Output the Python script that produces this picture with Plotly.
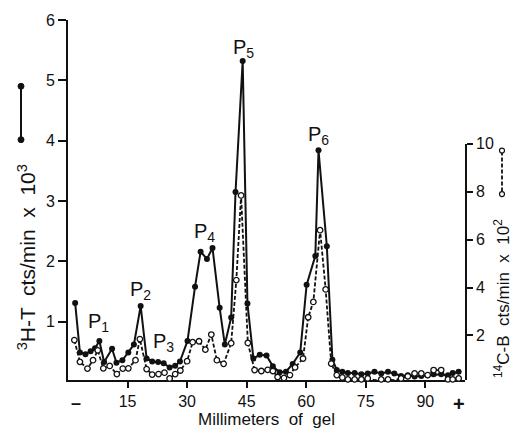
import plotly.graph_objects as go

# 3H-thymidine counts (cts/min x 10^3) by gel position (mm)
h3_mm = [1.8, 3.0, 4.4, 5.7, 6.8, 7.9, 9.1, 11.1, 12.2, 13.7, 15.2, 16.6, 18.3,
         19.8, 21.2, 22.7, 24.1, 25.6, 27.0, 28.2, 30.1, 32.0, 33.4, 35.0, 36.4,
         38.2, 39.5, 41.1, 42.2, 44.0, 45.2, 46.7, 48.3, 50.0, 51.6, 53.3, 54.9,
         56.6, 58.5, 60.1, 62.3, 63.1, 65.2, 66.6, 67.7, 69.1, 70.5, 72.2, 73.9,
         75.5, 77.2, 78.9, 80.6, 82.2, 83.9, 85.6, 87.3, 89.0, 90.6, 92.1, 94.0,
         95.7, 96.9, 98.4]
h3_cpm = [1.31, 0.49, 0.46, 0.51, 0.56, 0.68, 0.33, 0.55, 0.32, 0.36, 0.49, 0.62, 1.26,
          0.39, 0.34, 0.33, 0.31, 0.24, 0.27, 0.34, 0.68, 1.58, 2.16, 2.04, 2.22,
          1.23, 0.62, 1.07, 3.15, 5.32, 1.30, 0.39, 0.45, 0.44, 0.26, 0.16, 0.17,
          0.30, 0.49, 1.61, 2.09, 3.84, 2.25, 0.37, 0.20, 0.17, 0.15, 0.15, 0.13,
          0.14, 0.17, 0.14, 0.17, 0.14, 0.10, 0.11, 0.09, 0.10, 0.11, 0.13, 0.13,
          0.11, 0.15, 0.17]

# 14C-bromodeoxyuridine counts (cts/min x 10^2) by gel position (mm)
c14_mm = [1.6, 3.0, 4.9, 6.3, 7.5, 8.9, 10.5, 12.3, 13.8, 15.2, 17.0, 18.1,
          19.8, 21.2, 22.8, 24.3, 25.6, 27.0, 28.3, 30.0, 31.4, 33.0, 34.6, 36.1,
          37.5, 39.2, 41.1, 42.4, 43.6, 45.3, 47.0, 48.7, 50.3, 51.6, 52.8, 54.4,
          55.9, 57.2, 59.2, 60.5, 61.8, 63.5, 64.9, 66.3, 67.7, 69.1, 70.5, 72.2,
          73.9, 75.5, 77.2, 78.9, 80.6, 82.2, 83.9, 85.6, 87.3, 89.0, 90.6, 92.1,
          94.0, 95.7, 96.9, 98.4]
c14_cpm = [1.81, 0.90, 0.62, 0.97, 1.38, 0.63, 0.73, 0.39, 0.62, 0.63, 0.97, 1.85,
           0.60, 0.37, 0.39, 0.45, 0.21, 0.39, 0.54, 0.93, 1.72, 1.76, 1.41, 2.04,
           0.97, 0.82, 1.68, 4.31, 7.84, 1.69, 0.56, 0.52, 0.57, 0.52, 0.27, 0.23,
           0.35, 0.67, 1.04, 2.76, 3.40, 6.39, 3.92, 0.83, 0.35, 0.25, 0.17, 0.17,
           0.17, 0.21, 0.14, 0.17, 0.17, 0.14, 0.21, 0.30, 0.42, 0.42, 0.35, 0.56,
           0.56, 0.17, 0.17, 0.21]

# Peak labels: (name, mm, 3H value)
peak_names = ["P<sub>1</sub>", "P<sub>2</sub>", "P<sub>3</sub>",
              "P<sub>4</sub>", "P<sub>5</sub>", "P<sub>6</sub>"]
peak_mm = [7.7, 18.3, 24.1, 34.4, 44.2, 63.1]
peak_y = [0.98, 1.52, 0.66, 2.48, 5.52, 4.08]

x_ticks = [15, 30, 45, 60, 75, 90]
left_ticks = [1, 2, 3, 4, 5, 6]
right_ticks = [2, 4, 6, 8, 10]

FONT = "Liberation Sans, Arial, sans-serif"
INK = "#111111"

fig = go.Figure()

fig.add_trace(go.Scatter(
    x=h3_mm, y=h3_cpm, mode="lines+markers",
    line=dict(color=INK, width=2),
    marker=dict(color=INK, size=6, symbol="circle"),
    xaxis="x", yaxis="y", showlegend=False, cliponaxis=False,
))
fig.add_trace(go.Scatter(
    x=c14_mm, y=c14_cpm, mode="lines+markers",
    line=dict(color=INK, width=1.8, dash="4px,2px"),
    marker=dict(color="white", size=5.5, symbol="circle",
                line=dict(color=INK, width=1.3)),
    xaxis="x", yaxis="y2", showlegend=False, cliponaxis=False,
))

annotations = []
for name, xm, yv in zip(peak_names, peak_mm, peak_y):
    annotations.append(dict(
        x=xm, y=yv, xref="x", yref="y", text=name, showarrow=False,
        xanchor="center", yanchor="middle",
        font=dict(family=FONT, size=20, color=INK),
    ))

# end-of-gel markers under the x axis
annotations.append(dict(x=2, y=-0.03, xref="x", yref="paper", text="<b>–</b>",
                        showarrow=False, xanchor="center", yanchor="top",
                        font=dict(family=FONT, size=18, color=INK)))
annotations.append(dict(x=98.5, y=-0.03, xref="x", yref="paper", text="<b>+</b>",
                        showarrow=False, xanchor="center", yanchor="top",
                        font=dict(family=FONT, size=20, color=INK)))

annotations.append(dict(x=0.50, y=-0.078, xref="paper", yref="paper",
                        text="Millimeters  of  gel", showarrow=False,
                        xanchor="center", yanchor="top",
                        font=dict(family=FONT, size=17, color=INK)))

# axis titles: centre positions in pixels converted to paper units
px_w, px_h = 397.0, 364.0
def px(xp):
    return (xp - 68) / px_w
def py(yp):
    return (380 - yp) / px_h

annotations.append(dict(x=px(27), y=py(256), xref="paper", yref="paper",
                        text="<sup>3</sup>H-T  cts/min  x  10<sup>3</sup>",
                        textangle=-90, showarrow=False,
                        xanchor="center", yanchor="middle",
                        font=dict(family=FONT, size=21, color=INK)))
annotations.append(dict(x=px(502), y=py(298), xref="paper", yref="paper",
                        text="<sup>14</sup>C-B  cts/min  x  10<sup>2</sup>",
                        textangle=-90, showarrow=False,
                        xanchor="center", yanchor="middle",
                        font=dict(family=FONT, size=17, color=INK)))

# series keys drawn beside the axis titles
shapes = [
    dict(type="line", xref="paper", yref="paper", x0=px(21), x1=px(21),
         y0=py(83), y1=py(137), line=dict(color=INK, width=2)),
    dict(type="line", xref="paper", yref="paper", x0=px(502), x1=px(502),
         y0=py(149), y1=py(191), line=dict(color=INK, width=1.8, dash="4px,2px")),
]
for yc in (83, 137):
    shapes.append(dict(type="circle", xref="paper", yref="paper",
                       x0=px(18), x1=px(24), y0=py(yc + 3), y1=py(yc - 3),
                       fillcolor=INK, line=dict(color=INK, width=1)))
for yc in (148, 192):
    shapes.append(dict(type="circle", xref="paper", yref="paper",
                       x0=px(499.5), x1=px(504.5), y0=py(yc + 2.5), y1=py(yc - 2.5),
                       fillcolor="white", line=dict(color=INK, width=1.2)))

fig.update_layout(
    width=512, height=431,
    margin=dict(l=68, r=47, t=16, b=51),
    paper_bgcolor="white", plot_bgcolor="rgba(0,0,0,0)",
    font=dict(family=FONT, size=16, color=INK),
    xaxis=dict(range=[0, 100], domain=[0, 1], anchor="y",
               tickvals=x_ticks, ticks="outside", ticklen=6, tickwidth=1.5,
               tickcolor=INK, showline=True, linecolor=INK, linewidth=1.8,
               showgrid=False, zeroline=False,
               tickfont=dict(family=FONT, size=16, color=INK)),
    yaxis=dict(range=[0.033, 6], domain=[0, 1], anchor="x",
               tickvals=left_ticks, ticks="outside", ticklen=8, tickwidth=1.5,
               tickcolor=INK, showline=True, linecolor=INK, linewidth=1.8,
               showgrid=False, zeroline=False,
               tickfont=dict(family=FONT, size=16, color=INK)),
    yaxis2=dict(range=[0.144, 10], domain=[0, py(141)], anchor="x", side="right",
                tickvals=right_ticks, ticks="outside", ticklen=6, tickwidth=1.5,
                tickcolor=INK, showline=True, linecolor=INK, linewidth=1.8,
                showgrid=False, zeroline=False,
                tickfont=dict(family=FONT, size=16, color=INK)),
    annotations=annotations,
    shapes=shapes,
)

fig.write_html("out.html")
